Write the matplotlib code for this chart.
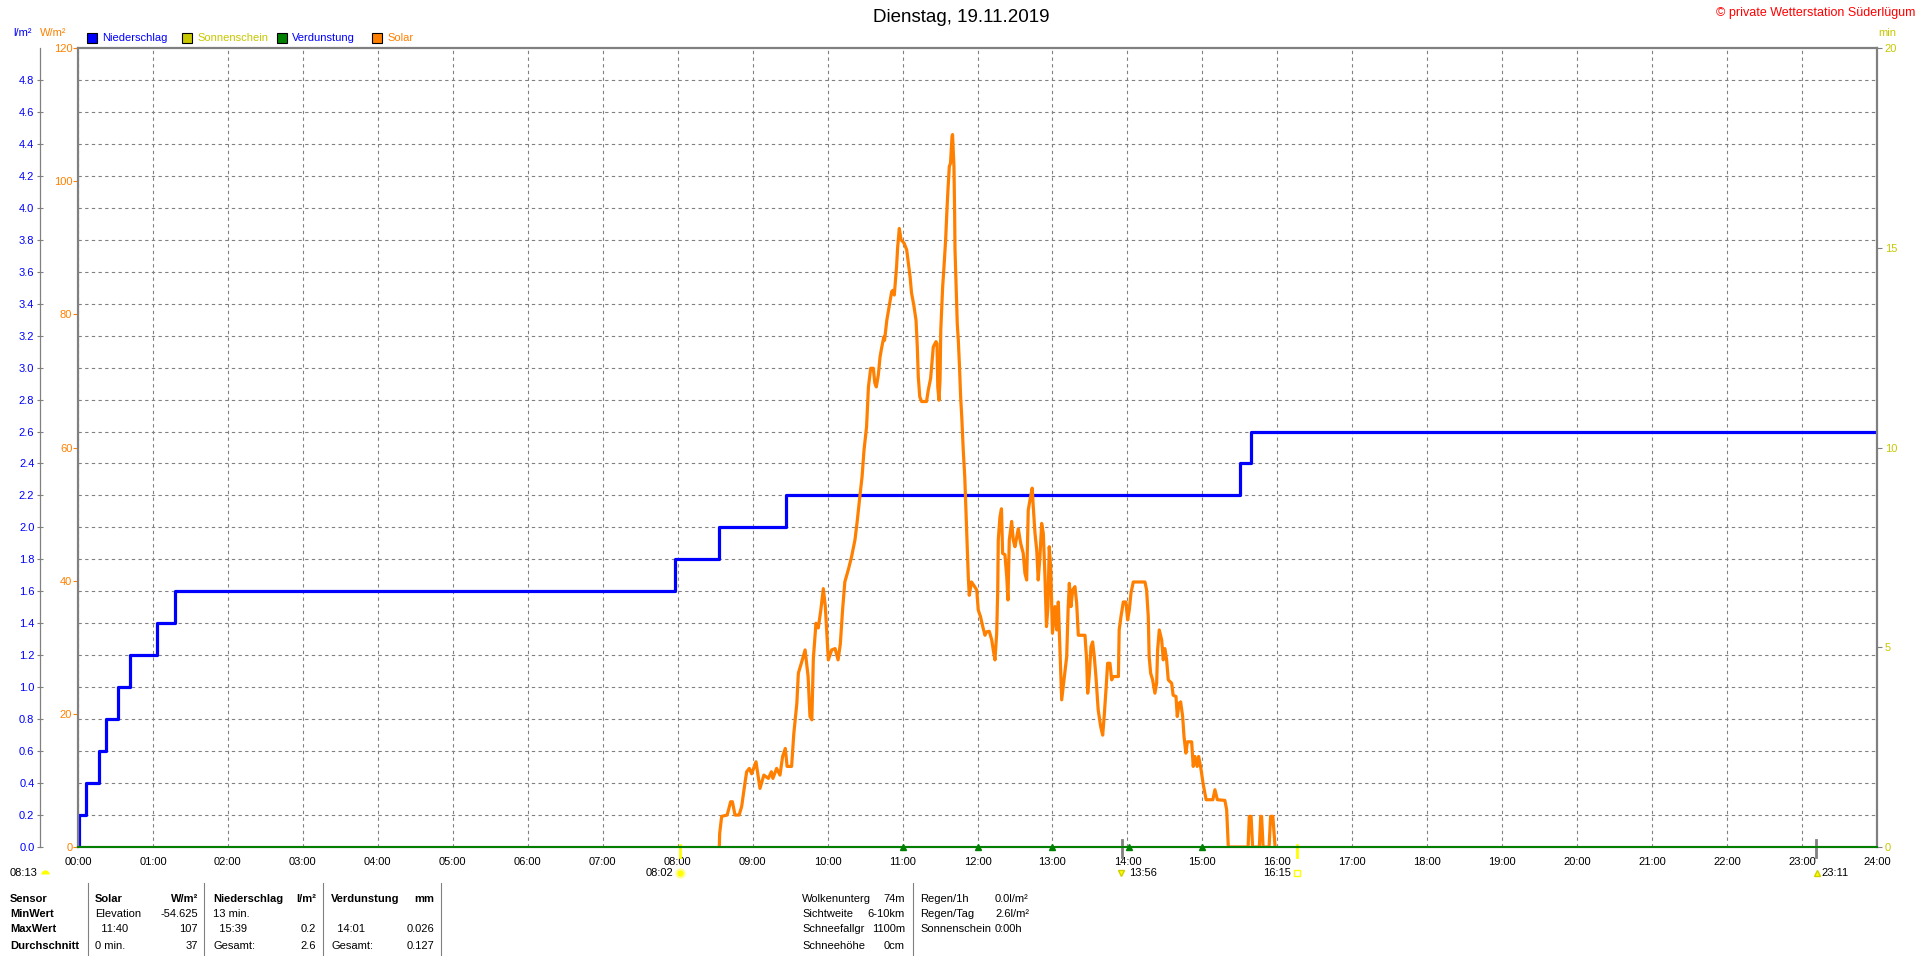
import numpy as np
import matplotlib
matplotlib.use("Agg")
import matplotlib.pyplot as plt
from matplotlib.lines import Line2D
from matplotlib.patches import Rectangle

plt.rcParams['font.family'] = ['Liberation Sans', 'DejaVu Sans']

# Niederschlag (l/m², cumulative steps)
nieder_t = [0, 0.01, 0.11, 0.28, 0.38, 0.53, 0.70, 1.05, 1.29, 7.97, 8.55, 9.45, 15.50, 15.65, 24]
nieder_v = [0, 0.2, 0.4, 0.6, 0.8, 1.0, 1.2, 1.4, 1.6, 1.8, 2.0, 2.2, 2.4, 2.6, 2.6]

# Solar (W/m²)
solar_t = [8.556, 8.56, 8.587, 8.66, 8.707, 8.73, 8.765, 8.82, 8.854, 8.885, 8.92, 8.956, 8.987,
           9.045, 9.098, 9.15, 9.21, 9.25, 9.27, 9.32, 9.365, 9.40, 9.436, 9.46, 9.52, 9.55, 9.59,
           9.61, 9.655, 9.70, 9.74, 9.765, 9.79, 9.81, 9.845, 9.876, 9.91, 9.943, 9.97, 10.01,
           10.055, 10.10, 10.14, 10.17, 10.20, 10.23, 10.28, 10.32, 10.365, 10.397, 10.43, 10.46,
           10.486, 10.52, 10.545, 10.575, 10.61, 10.63, 10.65, 10.677, 10.70, 10.72, 10.75, 10.76,
           10.79, 10.82, 10.855, 10.87, 10.89, 10.92, 10.935, 10.957, 10.98, 11.02, 11.055, 11.077,
           11.10, 11.12, 11.15, 11.18, 11.197, 11.21, 11.23, 11.255, 11.32, 11.343, 11.375, 11.41,
           11.446, 11.46, 11.47, 11.486, 11.50, 11.51, 11.535, 11.55, 11.575, 11.59, 11.606, 11.624,
           11.64, 11.66, 11.667, 11.686, 11.695, 11.70, 11.717, 11.73, 11.744, 11.76, 11.775, 11.79,
           11.81, 11.83, 11.856, 11.877, 11.89, 11.92, 11.95, 11.99, 12.01, 12.04, 12.07, 12.10,
           12.12, 12.157, 12.19, 12.21, 12.233, 12.256, 12.27, 12.277, 12.30, 12.32, 12.335, 12.366,
           12.39, 12.406, 12.424, 12.456, 12.477, 12.50, 12.544, 12.576, 12.61, 12.633, 12.656,
           12.677, 12.70, 12.73, 12.744, 12.767, 12.79, 12.81, 12.833, 12.856, 12.878, 12.90, 12.92,
           12.94, 12.957, 12.976, 13.00, 13.034, 13.057, 13.078, 13.10, 13.123, 13.154, 13.19, 13.21,
           13.225, 13.247, 13.27, 13.30, 13.323, 13.345, 13.434, 13.456, 13.47, 13.49, 13.514,
           13.536, 13.558, 13.58, 13.61, 13.643, 13.67, 13.69, 13.714, 13.736, 13.767, 13.79, 13.81,
           13.88, 13.89, 13.914, 13.945, 13.98, 14.003, 14.025, 14.047, 14.078, 14.234, 14.256,
           14.278, 14.29, 14.31, 14.336, 14.367, 14.39, 14.403, 14.425, 14.457, 14.478, 14.50,
           14.523, 14.545, 14.59, 14.61, 14.648, 14.665, 14.69, 14.71, 14.737, 14.755, 14.78, 14.80,
           14.857, 14.878, 14.90, 14.93, 14.95, 14.98, 15.01, 15.05, 15.14, 15.167, 15.20, 15.30,
           15.324, 15.346, 15.61, 15.626, 15.65, 15.67, 15.76, 15.778, 15.79, 15.81, 15.89, 15.91,
           15.94, 15.97]
solar_v = [0, 2.0, 4.6, 4.8, 6.8, 6.8, 4.8, 4.8, 6.1, 8.6, 11.3, 11.8, 11.0,
           12.8, 8.8, 10.8, 10.3, 11.3, 10.3, 11.8, 10.8, 13.6, 14.8, 12.1, 12.1, 17.1, 21.6,
           26.1, 27.8, 29.6, 25.6, 19.6, 19.1, 28.3, 33.6, 32.9, 35.6, 38.8, 36.1, 28.1,
           29.6, 29.8, 28.1, 30.5, 35.6, 39.8, 41.8, 43.6, 46.1, 49.1, 52.6, 55.6,
           59.6, 63.1, 69.1, 71.9, 71.9, 69.7, 69.1, 70.9, 73.6, 74.9, 76.6, 76.1,
           79.1, 81.1, 83.4, 83.6, 82.9, 87.1, 90.1, 92.9, 91.2, 90.7, 89.7, 87.7,
           85.7, 83.2, 81.4, 79.1, 75.1, 70.6, 67.6, 66.9, 66.9, 68.6, 70.4, 75.1,
           75.9, 75.6, 69.1, 67.1, 70.1, 77.6, 84.1, 86.6, 91.2, 95.1, 98.7, 102.2,
           102.7, 106.7, 107.0, 102.2, 95.1, 89.7, 83.7, 78.6, 76.1, 72.1, 67.6, 64.6,
           59.6, 55.6, 47.1, 40.6, 37.8, 39.8, 39.3, 38.6, 35.6, 34.6, 33.1, 31.8,
           32.3, 32.4, 31.1, 29.6, 28.1, 32.1, 38.6, 46.1, 49.6, 50.8, 44.1, 43.9,
           40.6, 37.1, 46.1, 48.9, 46.1, 45.1, 47.8, 45.6, 44.1, 41.1, 40.1,
           50.6, 52.1, 53.9, 51.1, 47.1, 44.6, 40.1, 43.6, 48.6, 47.1, 40.6, 33.1,
           36.1, 45.1, 42.1, 32.1, 36.1, 32.6, 36.8, 29.6, 22.1, 25.1, 28.6, 36.1,
           39.6, 36.1, 38.6, 39.1, 36.6, 31.8, 31.8, 28.1, 23.1, 25.6, 30.1,
           30.8, 28.6, 25.6, 20.6, 18.1, 16.8, 19.6, 23.6, 27.6, 27.6, 25.1, 25.6,
           25.6, 32.6, 34.6, 36.8, 36.8, 34.1, 35.6, 38.1, 39.8, 39.8, 38.6,
           34.6, 28.6, 26.1, 25.1, 23.1, 24.6, 29.6, 32.6, 31.1, 28.1, 29.8,
           28.1, 25.1, 24.6, 22.8, 22.6, 19.6, 21.6, 21.8, 19.6, 16.6, 14.1, 15.8,
           15.8, 12.1, 13.6, 12.1, 13.6, 11.8, 9.5, 7.1, 7.1, 8.6, 7.1, 7.0,
           5.6, 0, 0, 4.6, 4.6, 0, 0, 4.6, 4.6, 0, 0, 4.6,
           4.6, 0]

# Verdunstung
verd_t = [0, 24]
verd_v = [0, 0]
verd_mark_t = [11.0, 12.0, 13.0, 14.02, 15.0]

hours = list(range(25))
hour_labels = ["%02d:00" % h for h in hours]
nieder_ticks = np.round(np.arange(0, 4.81, 0.2), 1)
solar_ticks = [0, 20, 40, 60, 80, 100, 120]
min_ticks = [0, 5, 10, 15, 20]

BLUE = '#0000ff'
ORANGE = '#ff8000'
GREEN = '#008000'
YELLOW = '#c8c800'
GREY = '#808080'

W, H = 1920, 956


def fx(px):
    return px / W


def fy(py):
    return 1 - py / H


fig = plt.figure(figsize=(19.2, 9.56), dpi=100)
fig.patch.set_facecolor('white')

ax = fig.add_axes([fx(78), fy(847), fx(1877) - fx(78), fy(48) - fy(847)])
ax.set_xlim(0, 24)
ax.set_ylim(0, 5)
ax.set_xticks(hours)
ax.set_xticklabels(hour_labels)
ax.set_yticks(nieder_ticks)
ax.set_yticklabels(["%.1f" % v for v in nieder_ticks])
ax.grid(True, color=GREY, linestyle=(0, (3, 3)), linewidth=0.8)
ax.set_axisbelow(True)
for s in ['right', 'top', 'bottom']:
    ax.spines[s].set_visible(False)
ax.spines['left'].set_position(('outward', 27.4))
ax.spines['left'].set_color(GREY)
ax.spines['left'].set_linewidth(0.9)
ax.tick_params(axis='y', labelcolor=BLUE, color=GREY, direction='inout', length=5, pad=1.5, labelsize=8)
ax.tick_params(axis='x', length=0, pad=7, labelsize=8, labelcolor='black')
ax.plot(nieder_t, nieder_v, color=BLUE, lw=2.3, drawstyle='steps-post', zorder=3)

ax_sol = ax.twinx()
ax_sol.set_ylim(0, 120)
ax_sol.yaxis.tick_left()
ax_sol.set_yticks(solar_ticks)
ax_sol.tick_params(axis='y', labelcolor=ORANGE, color=ORANGE, direction='out', length=3.6, pad=0.5, labelsize=8)
for s in ['right', 'top', 'bottom']:
    ax_sol.spines[s].set_visible(False)
ax_sol.spines['left'].set_color(GREY)
ax_sol.spines['left'].set_linewidth(1.6)
ax_sol.plot(solar_t, solar_v, color=ORANGE, lw=2.3)

ax_min = ax.twinx()
ax_min.set_ylim(0, 20)
ax_min.set_yticks(min_ticks)
ax_min.tick_params(axis='y', labelcolor=YELLOW, color=GREY, direction='out', length=3.6, pad=2, labelsize=8)
ax_min.spines['left'].set_visible(False)
for s in ['right', 'top', 'bottom']:
    ax_min.spines[s].set_color(GREY)
    ax_min.spines[s].set_linewidth(1.6)
ax_min.plot(verd_t, verd_v, color=GREEN, lw=1.4, clip_on=False, zorder=4)
ax_min.plot(verd_mark_t, np.zeros(len(verd_mark_t)), '^', color=GREEN, ms=4, clip_on=False, zorder=4)

# sun / moon marks under the time axis
trans = ax_min.get_xaxis_transform()
ylab = -0.0325
for t in [8.033, 16.256]:
    ax_min.axvline(t, ymin=-0.0125, ymax=0.002, color='#ffff00', lw=2, clip_on=False)
for t in [13.933, 23.183]:
    ax_min.axvline(t, ymin=-0.0125, ymax=0.009, color=GREY, lw=2, clip_on=False)

ax_min.plot([8.033], [ylab], transform=trans, marker='o', ms=6, color='#ffff00', mec='#ffff99', mew=1.5, clip_on=False)
ax_min.annotate("08:02", xy=(8.033, ylab), xycoords=trans, xytext=(-5, 0), textcoords='offset points',
                ha='right', va='center', fontsize=8)
ax_min.plot([13.91], [ylab], transform=trans, marker='v', ms=5, color='#ffff00', mec='#d0d000', clip_on=False)
ax_min.annotate("13:56", xy=(13.933, ylab), xycoords=trans, xytext=(5, 0), textcoords='offset points',
                ha='left', va='center', fontsize=8)
ax_min.plot([16.256], [ylab], transform=trans, marker='s', ms=4, mfc='none', mec='#ffff00', clip_on=False)
ax_min.annotate("16:15", xy=(16.256, ylab), xycoords=trans, xytext=(-4, 0), textcoords='offset points',
                ha='right', va='center', fontsize=8)
ax_min.plot([23.2], [ylab], transform=trans, marker='^', ms=5, color='#ffff00', mec='#d0d000', clip_on=False)
ax_min.annotate("23:11", xy=(23.183, ylab), xycoords=trans, xytext=(4, 0), textcoords='offset points',
                ha='left', va='center', fontsize=8)

fig.text(fx(10), fy(873), "08:13", fontsize=8, ha='left', va='center')
fig.add_artist(Line2D([fx(45)], [fy(874)], marker='o', ms=6, color='#ffff00', fillstyle='top',
                      markerfacecoloralt='none', mec='none'))

# title, copyright, units
fig.text(fx(961), fy(17), "Dienstag, 19.11.2019", fontsize=13.5, ha='center', va='center')
fig.text(fx(1915), fy(13), "© private Wetterstation Süderlügum", fontsize=9, color='#ff0000',
         ha='right', va='center')
fig.text(fx(13), fy(33), "l/m²", fontsize=8, color=BLUE, ha='left', va='center')
fig.text(fx(40), fy(33), "W/m²", fontsize=8, color=ORANGE, ha='left', va='center')
fig.text(fx(1878), fy(33), "min", fontsize=8, color=YELLOW, ha='left', va='center')

# legend
legend_items = [("Niederschlag", BLUE, BLUE, 87), ("Sonnenschein", YELLOW, YELLOW, 182),
                ("Verdunstung", GREEN, BLUE, 277), ("Solar", ORANGE, ORANGE, 372)]
for name, col, tcol, x0 in legend_items:
    fig.add_artist(Rectangle((fx(x0), fy(43)), fx(10), fy(33) - fy(43), facecolor=col,
                             edgecolor='black', lw=0.8, transform=fig.transFigure))
    fig.text(fx(x0 + 15), fy(38), name, fontsize=8, color=tcol, ha='left', va='center')

# sensor table
row_y = [899, 914, 929, 946]
row_names = ["Sensor", "MinWert", "MaxWert", "Durchschnitt"]
col_left = [95, 213, 331]
col_right = [198, 316, 434]
head_left = ["Solar", "Niederschlag", "Verdunstung"]
head_right = ["W/m²", "l/m²", "mm"]
cell_left = [["Elevation", "13 min.", ""],
             ["  11:40", "  15:39", "  14:01"],
             ["0 min.", "Gesamt:", "Gesamt:"]]
cell_right = [["-54.625", "", ""],
              ["107", "0.2", "0.026"],
              ["37", "2.6", "0.127"]]

for name, y in zip(row_names, row_y):
    fig.text(fx(10), fy(y), name, fontsize=8, fontweight='bold', ha='left', va='center')
for i in range(3):
    fig.text(fx(col_left[i]), fy(row_y[0]), head_left[i], fontsize=8, fontweight='bold', ha='left', va='center')
    fig.text(fx(col_right[i]), fy(row_y[0]), head_right[i], fontsize=8, fontweight='bold', ha='right', va='center')
    for r in range(3):
        fig.text(fx(col_left[i]), fy(row_y[r + 1]), cell_left[r][i], fontsize=8, ha='left', va='center')
        fig.text(fx(col_right[i]), fy(row_y[r + 1]), cell_right[r][i], fontsize=8, ha='right', va='center')

info_names = ["Wolkenunterg", "Sichtweite", "Schneefallgr", "Schneehöhe"]
info_vals = ["74m", "6-10km", "1100m", "0cm"]
rain_names = ["Regen/1h", "Regen/Tag", "Sonnenschein"]
rain_vals = ["0.0l/m²", "2.6l/m²", "0:00h"]
for r in range(4):
    fig.text(fx(802), fy(row_y[r]), info_names[r], fontsize=8, ha='left', va='center')
    fig.text(fx(905), fy(row_y[r]), info_vals[r], fontsize=8, ha='right', va='center')
for r in range(3):
    fig.text(fx(920), fy(row_y[r]), rain_names[r], fontsize=8, ha='left', va='center')
    fig.text(fx(995), fy(row_y[r]), rain_vals[r], fontsize=8, ha='left', va='center')

for xs in [88, 204, 323, 441, 913]:
    fig.add_artist(Line2D([fx(xs), fx(xs)], [fy(883), fy(956)], color=GREY, lw=0.8))

fig.savefig("out.png", dpi=100)
